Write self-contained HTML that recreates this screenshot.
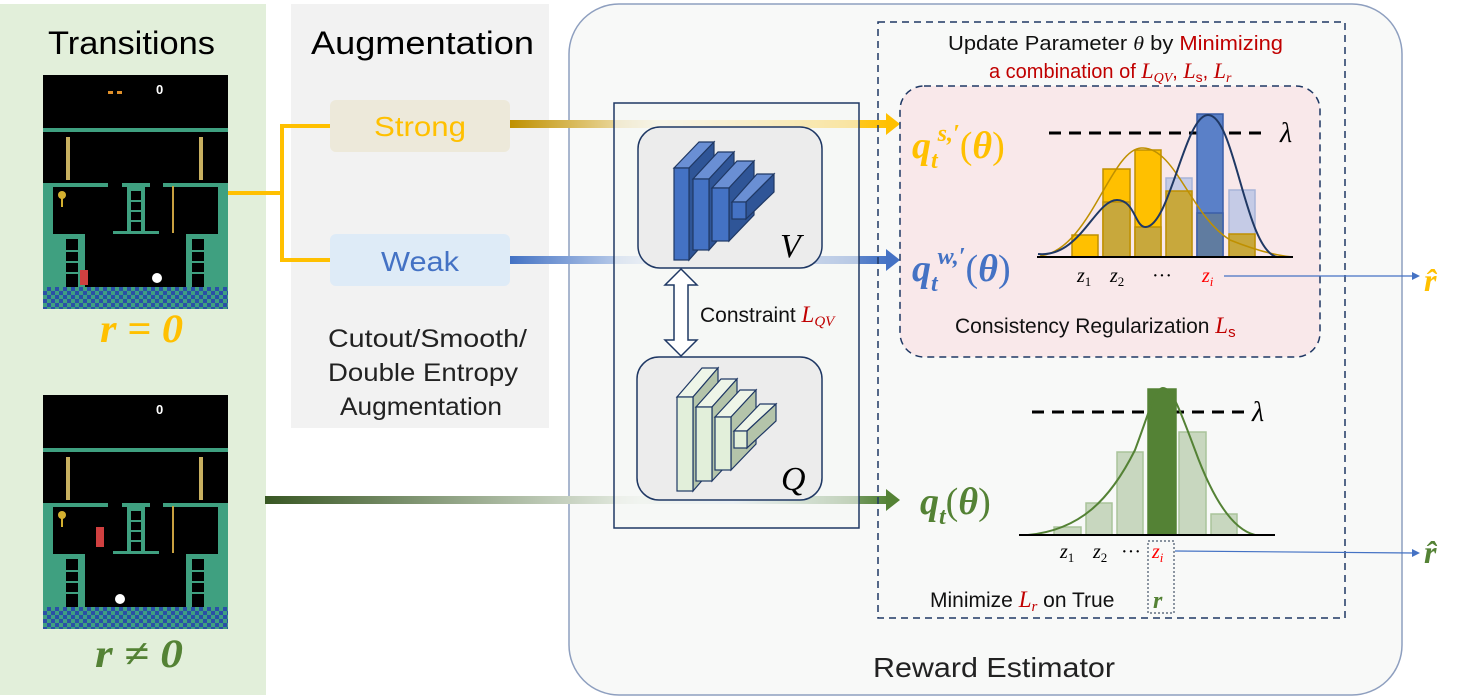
<!DOCTYPE html>
<html><head><meta charset="utf-8"><style>
html,body{margin:0;padding:0;background:#fff;}
svg{display:block;font-family:"Liberation Sans","DejaVu Sans",sans-serif;}
.m{font-family:"Liberation Serif","DejaVu Serif",serif;font-style:italic;}
</style></head><body>
<svg width="1472" height="699" viewBox="0 0 1472 699" xmlns="http://www.w3.org/2000/svg">
<defs>
<linearGradient id="gs" x1="0" x2="1"><stop offset="0" stop-color="#bf9000"/><stop offset="0.4" stop-color="#fbf3d8"/><stop offset="1" stop-color="#ffc000"/></linearGradient>
<linearGradient id="gw" x1="0" x2="1"><stop offset="0" stop-color="#4472c4"/><stop offset="0.4" stop-color="#e6eef8"/><stop offset="1" stop-color="#4472c4"/></linearGradient>
<linearGradient id="gg" x1="0" x2="1"><stop offset="0" stop-color="#385723"/><stop offset="0.6" stop-color="#e9efe6"/><stop offset="0.75" stop-color="#dbe8f0"/><stop offset="1" stop-color="#548235"/></linearGradient>
<pattern id="chk" width="8" height="8" patternUnits="userSpaceOnUse"><rect width="8" height="8" fill="#3fa080"/><rect width="4" height="4" fill="#2a4fa8"/><rect x="4" y="4" width="4" height="4" fill="#2a4fa8"/></pattern>
<g id="game">
<rect x="0" y="0" width="185" height="234" fill="#000"/>
<rect x="0" y="53" width="185" height="4" fill="#3fa080"/>
<rect x="23" y="62" width="4" height="43" fill="#c8b060"/>
<rect x="156" y="62" width="4" height="43" fill="#c8b060"/>
<rect x="0" y="108" width="65" height="4" fill="#3fa080"/>
<rect x="79" y="108" width="28" height="4" fill="#3fa080"/>
<rect x="120" y="108" width="65" height="4" fill="#3fa080"/>
<rect x="0" y="108" width="10" height="105" fill="#3fa080"/>
<rect x="175" y="108" width="10" height="105" fill="#3fa080"/>
<rect x="0" y="159" width="42" height="54" fill="#3fa080"/>
<rect x="143" y="159" width="42" height="54" fill="#3fa080"/>
<rect x="23" y="164" width="12" height="48" fill="#000"/>
<rect x="149" y="164" width="12" height="48" fill="#000"/>
<rect x="84" y="112" width="18" height="46" fill="#3fa080"/>
<rect x="88" y="116" width="10" height="40" fill="#000"/>
<g fill="#3fa080"><rect x="88" y="125" width="10" height="2"/><rect x="88" y="135" width="10" height="2"/><rect x="88" y="145" width="10" height="2"/>
<rect x="23" y="175" width="12" height="2"/><rect x="23" y="186" width="12" height="2"/><rect x="23" y="197" width="12" height="2"/>
<rect x="149" y="175" width="12" height="2"/><rect x="149" y="186" width="12" height="2"/><rect x="149" y="197" width="12" height="2"/></g>
<rect x="70" y="156" width="46" height="3" fill="#3fa080"/>
<rect x="129" y="111" width="2" height="47" fill="#c8a040"/>
<circle cx="19" cy="120" r="4" fill="#d4b030"/><rect x="18" y="123" width="2" height="9" fill="#d4b030"/>
<text x="113" y="19" font-size="13" fill="#fff" font-weight="bold">0</text>
<rect x="0" y="212" width="185" height="22" fill="url(#chk)"/>
</g>
</defs>

<rect x="0" y="4" width="266" height="691" fill="#e2efda"/>
<text x="48" y="54" font-size="32" textLength="167" lengthAdjust="spacingAndGlyphs" fill="#000">Transitions</text>
<use href="#game" x="43" y="75"/>
<rect x="108" y="91" width="5" height="3" fill="#e0902a"/><rect x="117" y="91" width="5" height="3" fill="#e0902a"/>
<rect x="80" y="270" width="8" height="15" fill="#d04040"/>
<circle cx="157" cy="278" r="5" fill="#fff"/>
<text x="100" y="342" font-size="40" textLength="83" lengthAdjust="spacingAndGlyphs" fill="#ffc000" class="m" font-weight="bold">r = 0</text>
<use href="#game" x="43" y="395"/>
<rect x="96" y="527" width="8" height="20" fill="#d04040"/>
<circle cx="120" cy="599" r="5" fill="#fff"/>
<text x="95" y="667" font-size="40" textLength="88" lengthAdjust="spacingAndGlyphs" fill="#548235" class="m" font-weight="bold">r ≠ 0</text>

<rect x="291" y="4" width="258" height="424" fill="#f2f2f2"/>
<text x="311" y="54" font-size="32" textLength="223" lengthAdjust="spacingAndGlyphs" fill="#000">Augmentation</text>
<rect x="330" y="100" width="180" height="52" rx="6" fill="#ede9da"/>
<text x="374" y="136" font-size="28" textLength="92" lengthAdjust="spacingAndGlyphs" fill="#ffc000">Strong</text>
<rect x="330" y="234" width="180" height="52" rx="6" fill="#deebf7"/>
<text x="381" y="271" font-size="28" textLength="78" lengthAdjust="spacingAndGlyphs" fill="#4472c4">Weak</text>
<g font-size="25" fill="#222"><text x="328" y="347" textLength="199" lengthAdjust="spacingAndGlyphs">Cutout/Smooth/</text><text x="328" y="381" textLength="190" lengthAdjust="spacingAndGlyphs">Double Entropy</text><text x="340" y="415" textLength="162" lengthAdjust="spacingAndGlyphs">Augmentation</text></g>
<path d="M228 193 H282 M282 124 V262 M280 126 H330 M280 260 H330" stroke="#ffc000" stroke-width="4" fill="none"/>

<rect x="569" y="4" width="833" height="691" rx="50" fill="#f8f9f8" stroke="#8e9fbf" stroke-width="1.5"/>
<text x="873" y="677" font-size="28" textLength="242" lengthAdjust="spacingAndGlyphs" fill="#222">Reward Estimator</text>

<rect x="510" y="120" width="380" height="8" fill="url(#gs)"/>
<polygon points="886,113 900,124 886,135" fill="#ffc000"/>
<rect x="510" y="256" width="380" height="8" fill="url(#gw)"/>
<polygon points="886,249 900,260 886,271" fill="#4472c4"/>
<rect x="265" y="496" width="625" height="8" fill="url(#gg)"/>
<polygon points="886,489 900,500 886,511" fill="#548235"/>

<rect x="614" y="103" width="245" height="425" fill="#f5f6f5" fill-opacity="0.6" stroke="#1f3864" stroke-width="1.5"/>
<rect x="638" y="127" width="184" height="141" rx="22" fill="#ececec" stroke="#1f3864" stroke-width="1.5"/>
<rect x="637" y="357" width="185" height="143" rx="22" fill="#ececec" stroke="#1f3864" stroke-width="1.5"/>
<g stroke="#1f3864" stroke-width="1.2">
<g fill="#4472c4">
<polygon points="674,168 699,142 714,142 689,168" fill="#6a8fd4"/><polygon points="689,168 714,142 714,232 689,260" fill="#2f5597"/><rect x="674" y="168" width="15" height="92"/>
<polygon points="693,179 718,152 734,152 709,179" fill="#6a8fd4"/><polygon points="709,179 734,152 734,222 709,250" fill="#2f5597"/><rect x="693" y="179" width="16" height="71"/>
<polygon points="712,188 737,161 754,161 729,188" fill="#6a8fd4"/><polygon points="729,188 754,161 754,215 729,241" fill="#2f5597"/><rect x="712" y="188" width="17" height="53"/>
<polygon points="732,202 757,174 774,174 746,202" fill="#6a8fd4"/><polygon points="746,202 774,174 774,192 746,219" fill="#2f5597"/><rect x="732" y="202" width="14" height="17"/>
</g>
<g fill="#e2efda">
<polygon points="677,397 702,368 718,368 693,397" fill="#eef5e8"/><polygon points="693,397 718,368 718,462 693,491" fill="#b4c4aa"/><rect x="677" y="397" width="16" height="94"/>
<polygon points="696,407 721,379 737,379 712,407" fill="#eef5e8"/><polygon points="712,407 737,379 737,454 712,481" fill="#b4c4aa"/><rect x="696" y="407" width="16" height="74"/>
<polygon points="715,417 740,390 756,390 731,417" fill="#eef5e8"/><polygon points="731,417 756,390 756,444 731,470" fill="#b4c4aa"/><rect x="715" y="417" width="16" height="53"/>
<polygon points="734,431 760,404 776,404 747,431" fill="#eef5e8"/><polygon points="747,431 776,404 776,421 747,448" fill="#b4c4aa"/><rect x="734" y="431" width="13" height="17"/>
</g>
</g>
<text x="780" y="257" font-size="34" class="m" fill="#000">V</text>
<text x="781" y="490" font-size="34" class="m" fill="#000">Q</text>
<polygon points="681,269 697,285 688,285 688,340 697,340 681,356 665,340 674,340 674,285 665,285" fill="#fff" stroke="#1f3864" stroke-width="1.5"/>
<text x="700" y="322" font-size="21" fill="#111">Constraint <tspan class="m" fill="#c00000" font-size="23">L</tspan><tspan class="m" fill="#c00000" font-size="15" dy="4">QV</tspan></text>

<rect x="878" y="22" width="467" height="596" fill="none" stroke="#1f3864" stroke-width="1.5" stroke-dasharray="7,5"/>
<text x="948" y="50" font-size="20" textLength="335" lengthAdjust="spacingAndGlyphs" fill="#111">Update Parameter <tspan class="m">θ</tspan> by <tspan fill="#c00000">Minimizing</tspan></text>
<text x="989" y="78" font-size="20" fill="#c00000">a combination of <tspan class="m" font-size="22">L</tspan><tspan class="m" font-size="14" dy="4">QV</tspan><tspan dy="-4">, </tspan><tspan class="m" font-size="22">L</tspan><tspan font-size="14" dy="4">s</tspan><tspan dy="-4">, </tspan><tspan class="m" font-size="22">L</tspan><tspan class="m" font-size="14" dy="4">r</tspan></text>

<rect x="900" y="86" width="420" height="271" rx="24" fill="#f9e8ea" stroke="#1f3864" stroke-width="1.5" stroke-dasharray="7,5"/>
<text x="912" y="158" font-size="38" class="m" font-weight="bold" fill="#ffc000">q<tspan font-size="24" dy="10">t</tspan><tspan font-size="24" dy="-27">s,′</tspan><tspan dy="17" font-style="normal" font-weight="normal">(</tspan>θ<tspan font-style="normal" font-weight="normal">)</tspan></text>
<text x="912" y="281" font-size="38" class="m" font-weight="bold" fill="#4472c4">q<tspan font-size="24" dy="10">t</tspan><tspan font-size="24" dy="-27">w,′</tspan><tspan dy="17" font-style="normal" font-weight="normal">(</tspan>θ<tspan font-style="normal" font-weight="normal">)</tspan></text>
<line x1="1049" y1="133" x2="1263" y2="133" stroke="#000" stroke-width="3" stroke-dasharray="12,8"/>
<text x="1280" y="142" font-size="28" class="m">λ</text>
<g stroke-width="1.5">
<rect x="1072" y="235" width="26" height="22" fill="#ffc000" stroke="#bf9000"/>
<rect x="1103" y="169" width="27" height="88" fill="#ffc000" stroke="#bf9000"/>
<rect x="1103" y="202" width="27" height="55" fill="#c8a83c" stroke="#bf9000"/>
<rect x="1135" y="150" width="26" height="107" fill="#ffc000" stroke="#bf9000"/>
<rect x="1135" y="227" width="26" height="30" fill="#c8a83c" stroke="#bf9000"/>
<rect x="1166" y="178" width="26" height="79" fill="#c5cbe6" stroke="#a8b4d8"/>
<rect x="1166" y="191" width="26" height="66" fill="#c8a83c" stroke="#bf9000"/>
<rect x="1197" y="114" width="26" height="143" fill="#5a80c8" stroke="#3a5ea8"/>
<rect x="1197" y="213" width="26" height="44" fill="#607ca0" stroke="#3a5ea8"/>
<rect x="1229" y="190" width="26" height="67" fill="#c5cbe6" stroke="#a8b4d8"/>
<rect x="1229" y="234" width="26" height="23" fill="#c8a83c" stroke="#bf9000"/>
</g>
<path d="M1040 256 C1090 250 1110 150 1141 148 C1175 146 1190 215 1230 240 C1260 252 1280 256 1293 257" fill="none" stroke="#bf9000" stroke-width="1.5"/>
<path d="M1038 254 C1080 258 1095 200 1117 200 C1135 200 1135 228 1146 227 C1170 225 1185 115 1208 115 C1235 115 1245 250 1277 257" fill="none" stroke="#1f3864" stroke-width="2"/>
<line x1="1037" y1="257" x2="1293" y2="257" stroke="#000" stroke-width="2"/>
<g font-size="20" class="m"><text x="1077" y="282">z<tspan font-size="13" dy="4" font-style="normal">1</tspan></text><text x="1110" y="282">z<tspan font-size="13" dy="4" font-style="normal">2</tspan></text><text x="1152" y="282" font-style="normal">···</text><text x="1202" y="282" fill="#ff0000">z<tspan font-size="13" dy="4">i</tspan></text></g>
<text x="955" y="333" font-size="21" fill="#111">Consistency Regularization <tspan class="m" fill="#c00000" font-size="23">L</tspan><tspan fill="#c00000" font-size="15" dy="4">s</tspan></text>
<line x1="1224" y1="276" x2="1414" y2="276" stroke="#4472c4" stroke-width="1.2"/>
<polygon points="1412,272 1420,276 1412,280" fill="#4472c4"/>
<text x="1424" y="291" font-size="32" class="m" font-weight="bold" fill="#ffc000">r̂</text>

<text x="920" y="514" font-size="38" class="m" font-weight="bold" fill="#548235">q<tspan font-size="24" dy="10">t</tspan><tspan dy="-10" font-style="normal" font-weight="normal">(</tspan>θ<tspan font-style="normal" font-weight="normal">)</tspan></text>
<line x1="1032" y1="412" x2="1247" y2="412" stroke="#000" stroke-width="3" stroke-dasharray="12,8"/>
<text x="1252" y="421" font-size="28" class="m">λ</text>
<g stroke="#a9c49a" stroke-width="1.5" fill="#c8d7bf">
<rect x="1054" y="527" width="27" height="8"/>
<rect x="1086" y="503" width="26" height="32"/>
<rect x="1117" y="452" width="26" height="83"/>
<rect x="1148" y="389" width="28" height="146" fill="#548235" stroke="#548235"/>
<rect x="1179" y="432" width="27" height="103"/>
<rect x="1211" y="514" width="26" height="21"/>
</g>
<path d="M1028 535 C1080 530 1110 500 1135 450 C1150 410 1155 388 1163 388 C1172 388 1180 410 1195 450 C1215 505 1235 530 1255 535" fill="none" stroke="#548235" stroke-width="2"/>
<line x1="1019" y1="535" x2="1275" y2="535" stroke="#000" stroke-width="2"/>
<g font-size="20" class="m"><text x="1060" y="558">z<tspan font-size="13" dy="4" font-style="normal">1</tspan></text><text x="1093" y="558">z<tspan font-size="13" dy="4" font-style="normal">2</tspan></text><text x="1121" y="558" font-style="normal">···</text><text x="1152" y="558" fill="#ff0000">z<tspan font-size="13" dy="4">i</tspan></text></g>
<rect x="1148" y="541" width="26" height="72" fill="none" stroke="#44546a" stroke-width="1.2" stroke-dasharray="2,2"/>
<text x="930" y="607" font-size="21" fill="#111">Minimize <tspan class="m" fill="#c00000" font-size="23">L</tspan><tspan class="m" fill="#c00000" font-size="15" dy="4">r</tspan><tspan dy="-4"> on True</tspan></text>
<text x="1153" y="608" font-size="24" class="m" font-weight="bold" fill="#548235">r</text>
<line x1="1175" y1="551" x2="1414" y2="553" stroke="#4472c4" stroke-width="1.2"/>
<polygon points="1412,549 1420,553 1412,557" fill="#4472c4"/>
<text x="1424" y="563" font-size="32" class="m" font-weight="bold" fill="#548235">r̂</text>
</svg>
</body></html>
